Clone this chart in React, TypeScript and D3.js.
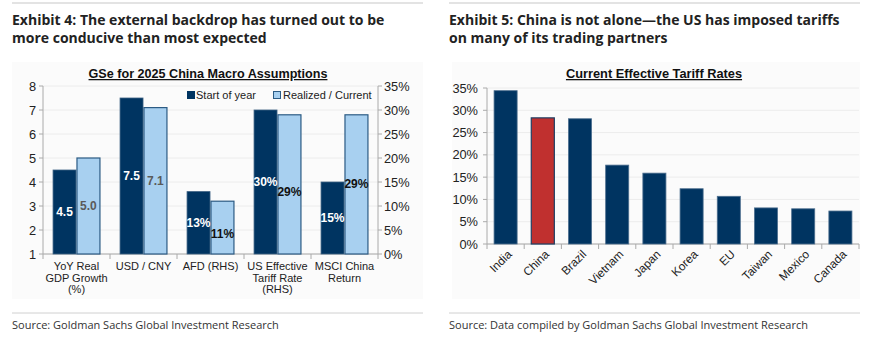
import React from "react";
import * as d3 from "d3";

const leftCategories = ["YoY Real|GDP Growth|(%)", "USD / CNY", "AFD (RHS)", "US Effective|Tariff Rate|(RHS)", "MSCI China|Return"];
const startOfYear = [4.5, 7.5, 0.13, 0.30, 0.15];
const realizedCurrent = [5.0, 7.1, 0.11, 0.29, 0.29];
const seriesAxis = ["L", "L", "R", "R", "R"];
const leftTicks = [1, 2, 3, 4, 5, 6, 7, 8];
const rightTicks = [0, 0.05, 0.1, 0.15, 0.2, 0.25, 0.3, 0.35];

const countries = ["India", "China", "Brazil", "Vietnam", "Japan", "Korea", "EU", "Taiwan", "Mexico", "Canada"];
const tariffRates = [0.344, 0.283, 0.281, 0.177, 0.159, 0.124, 0.107, 0.081, 0.079, 0.074];
const highlight = "China";
const tariffTicks = [0, 0.05, 0.1, 0.15, 0.2, 0.25, 0.3, 0.35];

const NAVY = "#003461";
const LIGHT = "#a8d0f0";
const RED = "#c0302f";
const FONT = "'Liberation Sans', Arial, sans-serif";
const TFONT = "'Open Sans', 'Noto Sans', sans-serif";

// small label nudges (style only)
const curLabelNudge = [0, 0, 6, 8, 0];

function LeftChart() {
  const yL = d3.scaleLinear().domain([1, 8]).range([254, 86]);
  const yR = d3.scaleLinear().domain([0, 0.35]).range([254, 86]);
  const x0 = d3.scaleBand<number>().domain(d3.range(leftCategories.length)).range([43, 378]).paddingInner(0.3).paddingOuter(0.15);
  const x1 = d3.scaleBand<number>().domain([0, 1]).range([0, x0.bandwidth()]).paddingInner(0.04);
  const yFor = (i: number) => (seriesAxis[i] === "L" ? yL : yR);
  const fmt = (i: number, v: number) => (seriesAxis[i] === "L" ? d3.format(".1f")(v) : d3.format(".0%")(v));
  const bounds = d3.range(leftCategories.length + 1).map((i) => 43 + i * x0.step());
  return (
    <g>
      <rect x={12} y={62} width={411} height={237} fill="#fbfbfb" />
      <text x={208} y={78} textAnchor="middle" fontFamily={FONT} fontWeight="bold" fontSize={12.6} textDecoration="underline" fill="#111">
        GSe for 2025 China Macro Assumptions
      </text>
      {leftTicks.map((t) => (
        <g key={"gl" + t}>
          <line x1={43} x2={378} y1={yL(t)} y2={yL(t)} stroke="#ececec" />
          <line x1={39} x2={43} y1={yL(t)} y2={yL(t)} stroke="#aaa" />
          <text x={36} y={yL(t) + 4.5} textAnchor="end" fontFamily={FONT} fontSize={12.8} fill="#222">{t}</text>
        </g>
      ))}
      {rightTicks.map((t) => (
        <g key={"gr" + t}>
          <line x1={378} x2={382} y1={yR(t)} y2={yR(t)} stroke="#aaa" />
          <text x={384} y={yR(t) + 4.5} textAnchor="start" fontFamily={FONT} fontSize={12.8} fill="#222">{d3.format(".0%")(t)}</text>
        </g>
      ))}
      <line x1={43} x2={43} y1={86} y2={254} stroke="#aaa" />
      <line x1={378} x2={378} y1={86} y2={254} stroke="#aaa" />
      <line x1={43} x2={378} y1={254} y2={254} stroke="#aaa" />
      {bounds.map((b, i) => (
        <line key={"tb" + i} x1={b} x2={b} y1={254} y2={259} stroke="#aaa" />
      ))}
      {leftCategories.map((c, i) => {
        const y = yFor(i);
        const bx0 = (x0(i) as number) + (x1(0) as number);
        const bx1 = (x0(i) as number) + (x1(1) as number);
        const w = x1.bandwidth();
        const v0 = startOfYear[i];
        const v1 = realizedCurrent[i];
        const base = y.range()[0];
        return (
          <g key={"c" + i}>
            <rect x={bx0} y={y(v0)} width={w} height={base - y(v0)} fill={NAVY} stroke="#3d6283" strokeWidth={0.8} />
            <rect x={bx1} y={y(v1)} width={w} height={base - y(v1)} fill={LIGHT} stroke="#2c5b84" strokeWidth={1.2} />
            <text x={bx0 + w / 2} y={(y(v0) + base) / 2 + 4} textAnchor="middle" fontFamily={FONT} fontWeight="bold" fontSize={12} fill="#fff">{fmt(i, v0)}</text>
            <text x={bx1 + w / 2} y={(y(v1) + base) / 2 + 4 + curLabelNudge[i]} textAnchor="middle" fontFamily={FONT} fontWeight="bold" fontSize={12} fill={seriesAxis[i] === "L" ? "#5a5a5a" : "#111"}>{fmt(i, v1)}</text>
            {c.split("|").map((line, j) => (
              <text key={j} x={(x0(i) as number) + x0.bandwidth() / 2} y={270 + j * 11.5} textAnchor="middle" fontFamily={FONT} fontSize={11} fill="#222">{line}</text>
            ))}
          </g>
        );
      })}
      <rect x={187} y={91} width={8} height={8} fill={NAVY} />
      <text x={196} y={99} fontFamily={FONT} fontSize={11} fill="#222">Start of year</text>
      <rect x={273.5} y={91.5} width={7} height={7} fill={LIGHT} stroke="#2c5b84" strokeWidth={1} />
      <text x={283} y={99} fontFamily={FONT} fontSize={11} fill="#222">Realized / Current</text>
    </g>
  );
}

function RightChart() {
  const y = d3.scaleLinear().domain([0, 0.35]).range([244, 88]);
  const x = d3.scaleBand<string>().domain(countries).range([487, 859]).paddingInner(0.38).paddingOuter(0.19);
  const bounds = d3.range(countries.length + 1).map((i) => 487 + i * x.step());
  return (
    <g>
      <rect x={452} y={62} width={408} height={237} fill="#fbfbfb" />
      <text x={654} y={78} textAnchor="middle" fontFamily={FONT} fontWeight="bold" fontSize={12.8} textDecoration="underline" fill="#111">
        Current Effective Tariff Rates
      </text>
      {tariffTicks.map((t) => (
        <g key={"t" + t}>
          <line x1={487} x2={859} y1={y(t)} y2={y(t)} stroke="#ececec" />
          <line x1={483} x2={487} y1={y(t)} y2={y(t)} stroke="#aaa" />
          <text x={478} y={y(t) + 4.5} textAnchor="end" fontFamily={FONT} fontSize={12.8} fill="#222">{d3.format(".0%")(t)}</text>
        </g>
      ))}
      <line x1={487} x2={487} y1={88} y2={244} stroke="#aaa" />
      <line x1={487} x2={859} y1={244} y2={244} stroke="#aaa" />
      {bounds.map((b, i) => (
        <line key={"b" + i} x1={b} x2={b} y1={244} y2={249} stroke="#aaa" />
      ))}
      {countries.map((c, i) => {
        const bx = x(c) as number;
        const cx = bx + x.bandwidth() / 2;
        const isH = c === highlight;
        return (
          <g key={c}>
            <rect x={bx} y={y(tariffRates[i])} width={x.bandwidth()} height={244 - y(tariffRates[i])} fill={isH ? RED : NAVY} stroke={isH ? "#1f3f63" : "#4d6f8f"} strokeWidth={isH ? 1.2 : 0.8} />
            <text transform={`translate(${cx + 7},${255}) rotate(-45)`} textAnchor="end" fontFamily={FONT} fontSize={11.8} fill="#222">{c}</text>
          </g>
        );
      })}
    </g>
  );
}

export default function App() {
  return (
    <svg width={872} height={345} style={{ position: "absolute", left: 0, top: 0, background: "#fff" }}>
      <rect width={872} height={345} fill="#fff" />
      <line x1={12} x2={423} y1={3} y2={3} stroke="#c8c8c8" strokeWidth={1.2} />
      <line x1={449} x2={860} y1={3} y2={3} stroke="#c8c8c8" strokeWidth={1.2} />
      <text x={12} y={25} fontFamily={TFONT} fontWeight="bold" fontSize={14} fill="#222">Exhibit 4: The external backdrop has turned out to be</text>
      <text x={12} y={43} fontFamily={TFONT} fontWeight="bold" fontSize={14} fill="#222">more conducive than most expected</text>
      <text x={449} y={25} fontFamily={TFONT} fontWeight="bold" fontSize={14} fill="#222">Exhibit 5: China is not alone—the US has imposed tariffs</text>
      <text x={449} y={43} fontFamily={TFONT} fontWeight="bold" fontSize={14} fill="#222">on many of its trading partners</text>
      <LeftChart />
      <RightChart />
      <line x1={12} x2={423} y1={313} y2={313} stroke="#d0d0d0" />
      <line x1={449} x2={860} y1={313} y2={313} stroke="#d0d0d0" />
      <text x={12} y={329} fontFamily={TFONT} fontSize={11} fill="#333">Source: Goldman Sachs Global Investment Research</text>
      <text x={449} y={329} fontFamily={TFONT} fontSize={11} fill="#333">Source: Data compiled by Goldman Sachs Global Investment Research</text>
    </svg>
  );
}
